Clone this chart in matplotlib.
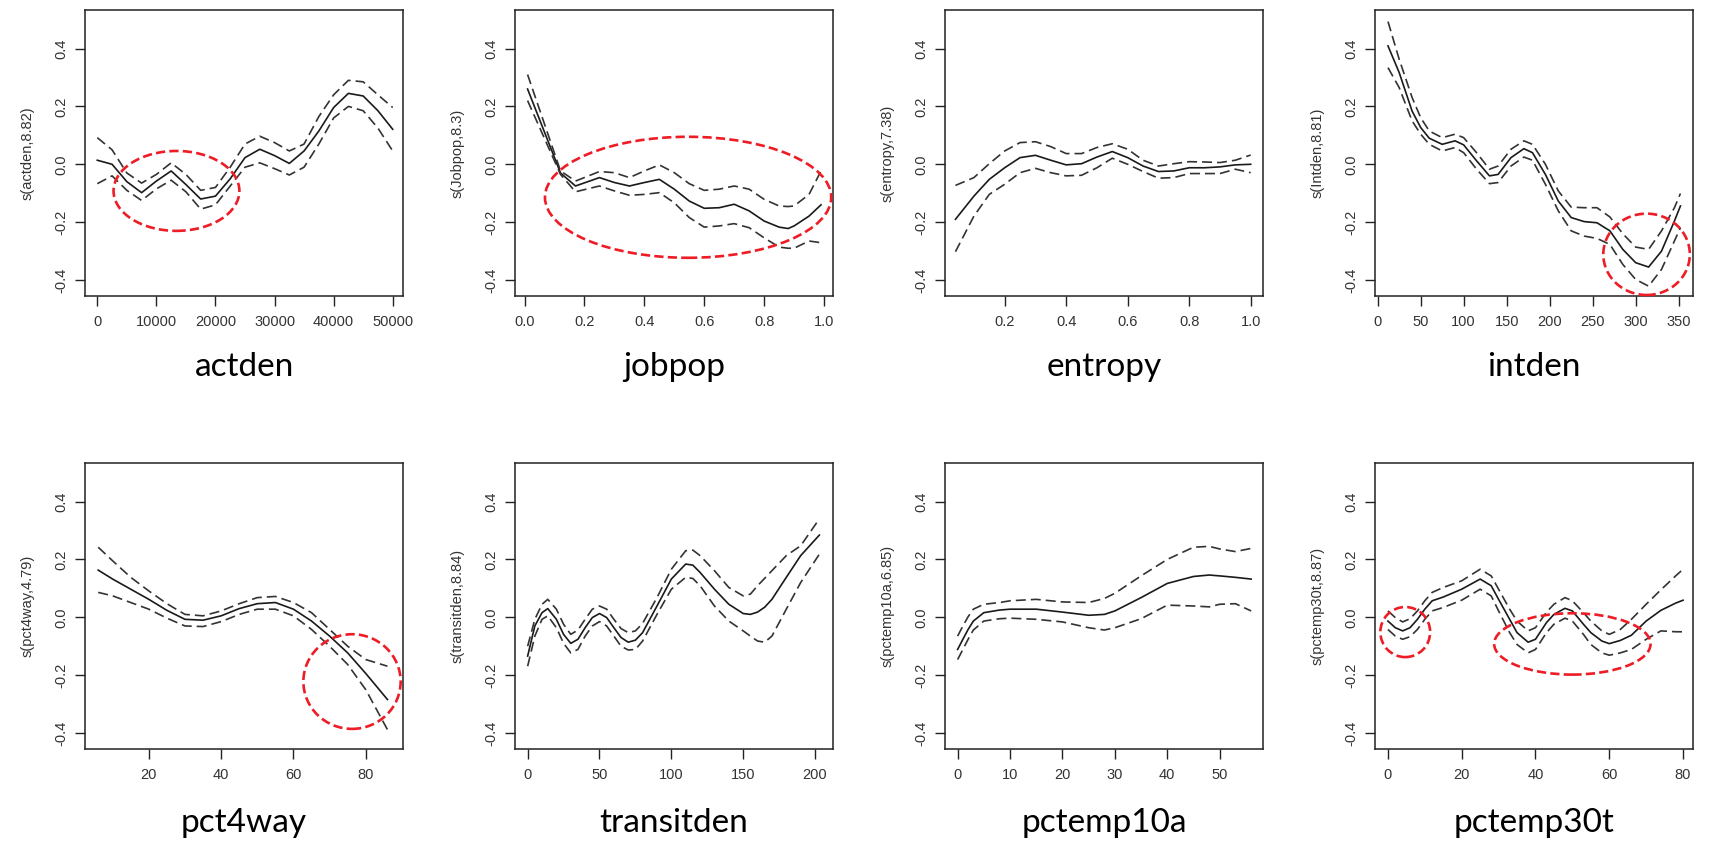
import matplotlib
matplotlib.use("Agg")
import matplotlib.pyplot as plt
from matplotlib.patches import Ellipse

plt.rcParams['font.family'] = ['Liberation Sans', 'DejaVu Sans']

# ---- data (fit, upper and lower band) ----
actden_x = [0, 2500, 5000, 7500, 10000, 12500, 15000, 17500, 20000, 22500, 25000,
            27500, 30000, 32500, 35000, 37500, 40000, 42500, 45000, 47500, 50000]
actden_fit = [0.014, 0.0, -0.06, -0.098, -0.058, -0.023, -0.07, -0.12, -0.11, -0.05, 0.023,
              0.052, 0.03, 0.003, 0.046, 0.115, 0.196, 0.245, 0.236, 0.185, 0.121]
actden_hi = [0.092, 0.05, -0.03, -0.065, -0.035, 0.005, -0.035, -0.09, -0.08, -0.01, 0.07,
             0.097, 0.075, 0.046, 0.07, 0.165, 0.24, 0.29, 0.285, 0.24, 0.196]
actden_lo = [-0.067, -0.04, -0.09, -0.125, -0.085, -0.055, -0.095, -0.155, -0.14, -0.075, -0.01,
             0.005, -0.015, -0.037, -0.01, 0.07, 0.16, 0.2, 0.185, 0.125, 0.046]

jobpop_x = [0.01, 0.12, 0.17, 0.25, 0.3, 0.35, 0.4, 0.45, 0.5, 0.55, 0.6, 0.65,
            0.7, 0.75, 0.8, 0.85, 0.88, 0.9, 0.95, 0.99]
jobpop_fit = [0.26, -0.03, -0.075, -0.046, -0.063, -0.075, -0.063, -0.052, -0.086, -0.127, -0.152, -0.15,
              -0.138, -0.161, -0.196, -0.217, -0.222, -0.213, -0.179, -0.14]
jobpop_hi = [0.31, -0.023, -0.058, -0.025, -0.029, -0.046, -0.023, -0.002, -0.029, -0.067, -0.09, -0.086,
             -0.075, -0.086, -0.121, -0.144, -0.146, -0.144, -0.104, -0.023]
jobpop_lo = [0.22, -0.035, -0.095, -0.075, -0.092, -0.107, -0.104, -0.098, -0.133, -0.184, -0.217, -0.213,
             -0.205, -0.219, -0.254, -0.286, -0.29, -0.29, -0.265, -0.271]

entropy_x = [0.04, 0.1, 0.15, 0.2, 0.25, 0.3, 0.35, 0.4, 0.45, 0.5, 0.55, 0.6,
             0.65, 0.7, 0.75, 0.8, 0.85, 0.9, 0.95, 1.0]
entropy_fit = [-0.19, -0.11, -0.052, -0.012, 0.023, 0.031, 0.014, -0.002, 0.002, 0.025, 0.044, 0.023,
               -0.006, -0.025, -0.023, -0.012, -0.012, -0.009, -0.002, 0.0]
entropy_hi = [-0.073, -0.046, 0.002, 0.046, 0.075, 0.078, 0.061, 0.037, 0.037, 0.058, 0.071, 0.052,
              0.014, -0.006, 0.002, 0.009, 0.008, 0.006, 0.014, 0.032]
entropy_lo = [-0.302, -0.179, -0.104, -0.069, -0.029, -0.014, -0.029, -0.04, -0.038, -0.012, 0.021, 0.0,
              -0.025, -0.048, -0.046, -0.032, -0.032, -0.032, -0.017, -0.029]

intden_x = [12, 25, 40, 50, 60, 75, 90, 100, 115, 130, 140, 155, 170, 180,
            195, 210, 225, 240, 255, 270, 285, 300, 315, 330, 345, 352]
intden_fit = [0.409, 0.317, 0.184, 0.127, 0.09, 0.069, 0.081, 0.067, 0.012, -0.04, -0.035, 0.023, 0.054, 0.04,
              -0.035, -0.127, -0.184, -0.198, -0.202, -0.23, -0.294, -0.34, -0.355, -0.3, -0.196, -0.144]
intden_hi = [0.493, 0.363, 0.231, 0.161, 0.115, 0.092, 0.104, 0.092, 0.04, -0.017, -0.006, 0.052, 0.081, 0.069,
             0.0, -0.092, -0.148, -0.15, -0.15, -0.182, -0.24, -0.286, -0.294, -0.23, -0.15, -0.101]
intden_lo = [0.334, 0.265, 0.15, 0.104, 0.069, 0.046, 0.058, 0.04, -0.017, -0.067, -0.063, -0.006, 0.025, 0.014,
             -0.069, -0.161, -0.23, -0.248, -0.256, -0.277, -0.346, -0.398, -0.421, -0.363, -0.265, -0.219]

pct4way_x = [6, 10, 15, 20, 25, 30, 35, 40, 45, 50, 55, 60, 65, 70, 75, 80, 86]
pct4way_fit = [0.163, 0.132, 0.097, 0.062, 0.024, -0.007, -0.01, 0.005, 0.03, 0.047, 0.051, 0.028,
               -0.013, -0.065, -0.123, -0.194, -0.284]
pct4way_hi = [0.242, 0.195, 0.138, 0.091, 0.047, 0.01, 0.005, 0.022, 0.047, 0.068, 0.072, 0.051,
              0.016, -0.042, -0.1, -0.146, -0.169]
pct4way_lo = [0.086, 0.074, 0.051, 0.028, -0.003, -0.03, -0.032, -0.015, 0.01, 0.028, 0.028, 0.005,
              -0.042, -0.1, -0.163, -0.25, -0.388]

transitden_x = [0, 5, 10, 14, 20, 25, 30, 35, 40, 45, 50, 55, 60, 65, 70, 75, 80, 90,
                100, 110, 115, 120, 130, 140, 150, 155, 160, 165, 170, 180, 190, 203]
transitden_fit = [-0.134, -0.03, 0.016, 0.03, -0.007, -0.059, -0.09, -0.076, -0.036, -0.001, 0.013, -0.001,
                  -0.036, -0.07, -0.086, -0.079, -0.053, 0.039, 0.132, 0.184, 0.18, 0.155, 0.097, 0.045,
                  0.013, 0.01, 0.018, 0.035, 0.062, 0.138, 0.213, 0.284]
transitden_hi = [-0.1, -0.007, 0.045, 0.062, 0.028, -0.024, -0.059, -0.044, -0.007, 0.028, 0.039, 0.028,
                 -0.007, -0.039, -0.053, -0.047, -0.021, 0.068, 0.166, 0.23, 0.232, 0.213, 0.161, 0.103,
                 0.074, 0.08, 0.109, 0.135, 0.161, 0.213, 0.247, 0.34]
transitden_lo = [-0.169, -0.065, -0.007, 0.005, -0.036, -0.09, -0.123, -0.111, -0.065, -0.03, -0.015, -0.03,
                 -0.065, -0.1, -0.113, -0.111, -0.082, 0.01, 0.097, 0.138, 0.134, 0.109, 0.039, -0.013,
                 -0.047, -0.065, -0.082, -0.086, -0.065, 0.028, 0.12, 0.218]

pctemp10a_x = [0, 1, 2, 3, 5, 8, 10, 15, 20, 25, 28, 30, 35, 40, 45, 48, 50, 53, 56]
pctemp10a_fit = [-0.111, -0.076, -0.042, -0.013, 0.016, 0.025, 0.028, 0.028, 0.018, 0.007, 0.01, 0.022,
                 0.068, 0.117, 0.141, 0.146, 0.143, 0.138, 0.132]
pctemp10a_hi = [-0.065, -0.03, 0.002, 0.028, 0.045, 0.051, 0.057, 0.062, 0.053, 0.051, 0.065, 0.083,
                0.143, 0.2, 0.242, 0.245, 0.236, 0.227, 0.238]
pctemp10a_lo = [-0.146, -0.111, -0.076, -0.044, -0.013, -0.005, -0.003, -0.007, -0.016, -0.036, -0.044, -0.036,
                -0.005, 0.042, 0.039, 0.036, 0.045, 0.047, 0.022]

pctemp30t_x = [0, 2, 4, 6, 8, 10, 12, 15, 20, 25, 28, 30, 33, 35, 38, 40, 43, 45, 48, 50,
               53, 55, 58, 60, 63, 66, 70, 74, 78, 80]
pctemp30t_fit = [-0.013, -0.036, -0.047, -0.036, -0.007, 0.028, 0.057, 0.07, 0.097, 0.132, 0.109, 0.062,
                 -0.007, -0.053, -0.086, -0.076, -0.018, 0.01, 0.031, 0.022, -0.024, -0.053, -0.082, -0.091,
                 -0.08, -0.062, -0.013, 0.024, 0.049, 0.059]
pctemp30t_hi = [0.022, -0.001, -0.016, -0.005, 0.022, 0.057, 0.086, 0.103, 0.126, 0.166, 0.143, 0.097,
                0.028, -0.013, -0.047, -0.036, 0.018, 0.045, 0.068, 0.057, 0.016, -0.013, -0.047, -0.059,
                -0.042, -0.007, 0.045, 0.095, 0.143, 0.166]
pctemp30t_lo = [-0.042, -0.065, -0.076, -0.067, -0.042, -0.007, 0.022, 0.034, 0.059, 0.097, 0.074, 0.022,
                -0.053, -0.094, -0.123, -0.111, -0.053, -0.024, -0.003, -0.013, -0.059, -0.094, -0.123, -0.131,
                -0.123, -0.111, -0.076, -0.047, -0.05, -0.05]

# panel names, y labels, x ticks
names = ['actden', 'jobpop', 'entropy', 'intden', 'pct4way', 'transitden', 'pctemp10a', 'pctemp30t']
ylabels = ['s(actden,8.82)', 's(Jobpop,8.3)', 's(entropy,7.38)', 's(Intden,8.81)',
           's(pct4way,4.79)', 's(transitden,8.84)', 's(pctemp10a,6.85)', 's(pctemp30t,8.87)']
xticks = [
    [0, 10000, 20000, 30000, 40000, 50000],
    [0.0, 0.2, 0.4, 0.6, 0.8, 1.0],
    [0.2, 0.4, 0.6, 0.8, 1.0],
    [0, 50, 100, 150, 200, 250, 300, 350],
    [20, 40, 60, 80],
    [0, 50, 100, 150, 200],
    [0, 10, 20, 30, 40, 50],
    [0, 20, 40, 60, 80],
]
xticklabels = [
    ['0', '10000', '20000', '30000', '40000', '50000'],
    ['0.0', '0.2', '0.4', '0.6', '0.8', '1.0'],
    ['0.2', '0.4', '0.6', '0.8', '1.0'],
    ['0', '50', '100', '150', '200', '250', '300', '350'],
    ['20', '40', '60', '80'],
    ['0', '50', '100', '150', '200'],
    ['0', '10', '20', '30', '40', '50'],
    ['0', '20', '40', '60', '80'],
]
xlims = [(-2082, 51743), (-0.032, 1.030), (0.006, 1.040), (-3.1, 366.6),
         (2.35, 90.3), (-8.8, 212.5), (-2.41, 58.26), (-3.5, 82.7)]
yticks = [-0.4, -0.2, 0.0, 0.2, 0.4]
yticklabels = ['-0.4', '-0.2', '0.0', '0.2', '0.4']

# red highlight ellipses: panel index, centre x, centre y, width, height
ellipses = [
    (0, 13400, -0.092, 21300, 0.276),
    (1, 0.546, -0.114, 0.956, 0.418),
    (3, 312.6, -0.311, 100.6, 0.281),
    (4, 76.2, -0.222, 26.9, 0.327),
    (7, 4.7, -0.051, 13.5, 0.173),
    (7, 50.0, -0.092, 42.4, 0.212),
]

curves = [
    (actden_x, actden_fit, actden_hi, actden_lo),
    (jobpop_x, jobpop_fit, jobpop_hi, jobpop_lo),
    (entropy_x, entropy_fit, entropy_hi, entropy_lo),
    (intden_x, intden_fit, intden_hi, intden_lo),
    (pct4way_x, pct4way_fit, pct4way_hi, pct4way_lo),
    (transitden_x, transitden_fit, transitden_hi, transitden_lo),
    (pctemp10a_x, pctemp10a_fit, pctemp10a_hi, pctemp10a_lo),
    (pctemp30t_x, pctemp30t_fit, pctemp30t_hi, pctemp30t_lo),
]

W, H = 1711, 842
fig = plt.figure(figsize=(W / 100, H / 100), dpi=100)

col_left = [85, 515, 945, 1375]
row_top = [10, 463]
box_w, box_h = 318, 286
label_base = [376, 832]

axes = []
for i in range(8):
    r, c = divmod(i, 4)
    left = col_left[c]
    top = row_top[r]
    ax = fig.add_axes([left / W, 1 - (top + box_h) / H, box_w / W, box_h / H])
    axes.append(ax)
    x, fit, hi, lo = curves[i]
    ax.plot(x, fit, color='#1a1a1a', lw=1.2)
    ax.plot(x, hi, color='#333333', lw=1.2, linestyle=(0, (6, 3)))
    ax.plot(x, lo, color='#333333', lw=1.2, linestyle=(0, (6, 3)))

    ax.set_xlim(xlims[i])
    ax.set_ylim(-0.455, 0.533)
    ax.set_xticks(xticks[i])
    ax.set_xticklabels(xticklabels[i])
    ax.set_yticks(yticks)
    ax.set_yticklabels(yticklabels, rotation=90, va='center')
    ax.tick_params(direction='out', length=7, width=1.0, labelsize=10.5,
                   labelcolor='#333333', color='#222222')
    ax.tick_params(axis='x', pad=7)
    ax.tick_params(axis='y', pad=5)
    for sp in ax.spines.values():
        sp.set_linewidth(1.1)
        sp.set_color('#222222')

    ax.text(-0.182, 0.5, ylabels[i], transform=ax.transAxes, rotation=90,
            ha='center', va='center', fontsize=10.5, color='#333333')

    fig.text((left + box_w / 2) / W, 1 - label_base[r] / H, names[i],
             ha='center', va='baseline', fontsize=24, family=['Lato', 'DejaVu Sans'],
             color='black')

for idx, cx, cy, ew, eh in ellipses:
    e = Ellipse((cx, cy), ew, eh, fill=False, edgecolor='#ee1c25', lw=1.9,
                linestyle=(0, (3.5, 1.6)), clip_on=False, zorder=5)
    axes[idx].add_patch(e)

fig.savefig('out.png', dpi=100, facecolor='white')
